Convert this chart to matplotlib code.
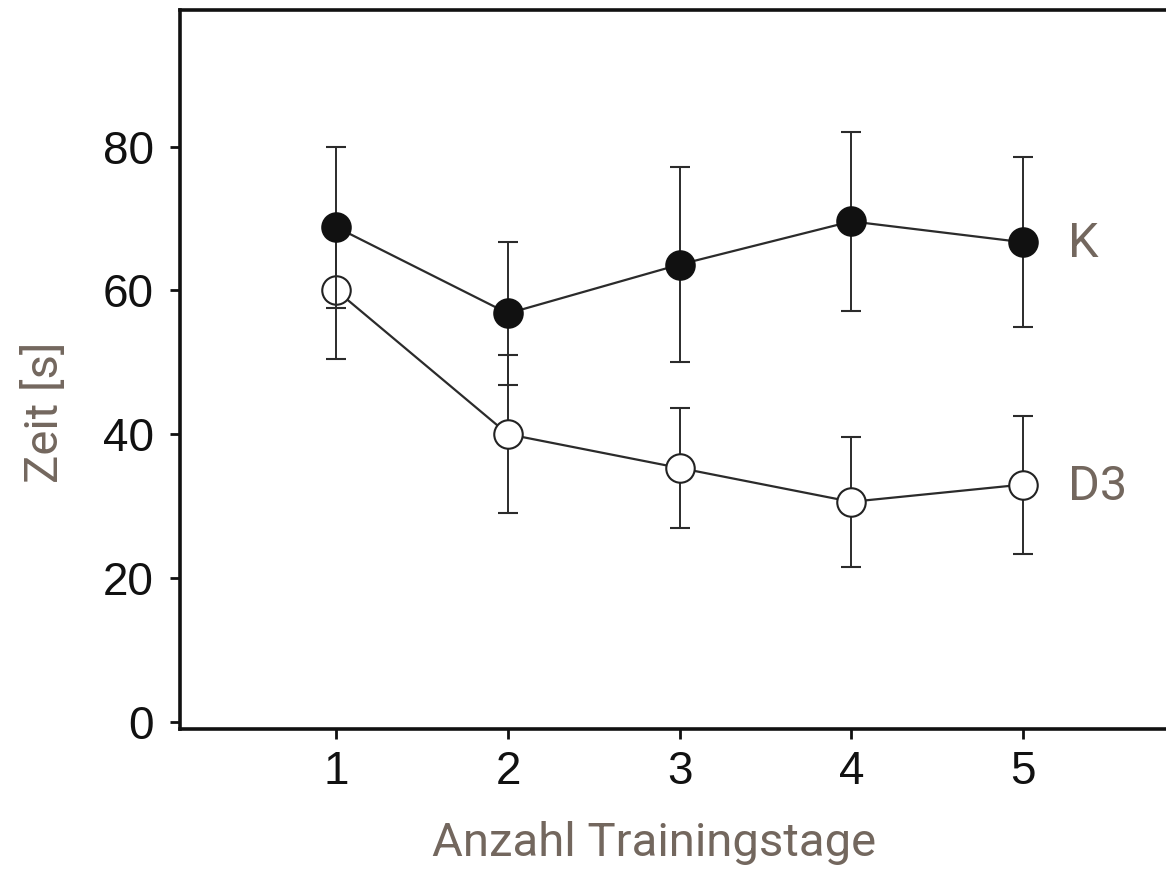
import matplotlib
matplotlib.use("Agg")
import matplotlib.pyplot as plt

# Trainingstage
tage = [1, 2, 3, 4, 5]

# Gruppe K (gefuellte Kreise)
k_mean = [68.8, 56.8, 63.6, 69.6, 66.7]
k_err = [11.2, 10.0, 13.5, 12.5, 11.8]

# Gruppe D3 (offene Kreise)
d3_mean = [60.0, 40.0, 35.3, 30.6, 33.0]
d3_err = [9.6, 11.0, 8.4, 9.0, 9.6]

label_farbe = "#73675e"
linien_farbe = "#2b2b2b"

fig = plt.figure(figsize=(11.66, 8.69), dpi=100)
ax = fig.add_axes([180 / 1166, 1 - 729 / 869, 1 - 180 / 1166 + 0.01, (729 - 10) / 869])

ax.errorbar(tage, d3_mean, yerr=d3_err, color=linien_farbe, lw=1.6, elinewidth=1.4,
            capsize=7.5, capthick=1.4, marker="o", ms=20.5, mfc="white", mec="#222222",
            mew=1.5, zorder=3)
ax.errorbar(tage, k_mean, yerr=k_err, color=linien_farbe, lw=1.6, elinewidth=1.4,
            capsize=7.5, capthick=1.4, marker="o", ms=20.5, mfc="#111111", mec="#111111",
            mew=1.5, zorder=4)

ax.text(5.26, k_mean[-1] - 0.3, "K", fontsize=35, family="Roboto", color=label_farbe,
        va="center", ha="left")
ax.text(5.26, d3_mean[-1] - 0.3, "D3", fontsize=35, family="Roboto", color=label_farbe,
        va="center", ha="left")

ax.set_xlim(0.09, 5.9)
ax.set_ylim(-1, 99)
ax.set_xticks(tage)
ax.set_yticks([0, 20, 40, 60, 80])
ax.tick_params(labelsize=33, width=2, length=7, direction="out", colors="#111111")
ax.tick_params(axis="y", pad=12)
ax.tick_params(axis="x", pad=8)
for lab in ax.get_xticklabels() + ax.get_yticklabels():
    lab.set_family("Liberation Sans")

for s in ["left", "top", "bottom"]:
    ax.spines[s].set_linewidth(2.6)
    ax.spines[s].set_color("#111111")
ax.spines["right"].set_visible(False)

ax.set_xlabel("Anzahl Trainingstage", fontsize=34, family="Roboto", color=label_farbe)
ax.set_ylabel("Zeit [s]", fontsize=34, family="Roboto", color=label_farbe)
ax.xaxis.set_label_coords((654.5 - 180) / (1166 - 180 + 11.66), -0.128)
ax.yaxis.set_label_coords(-0.113, 0.44)

fig.savefig("out.png", dpi=100)
